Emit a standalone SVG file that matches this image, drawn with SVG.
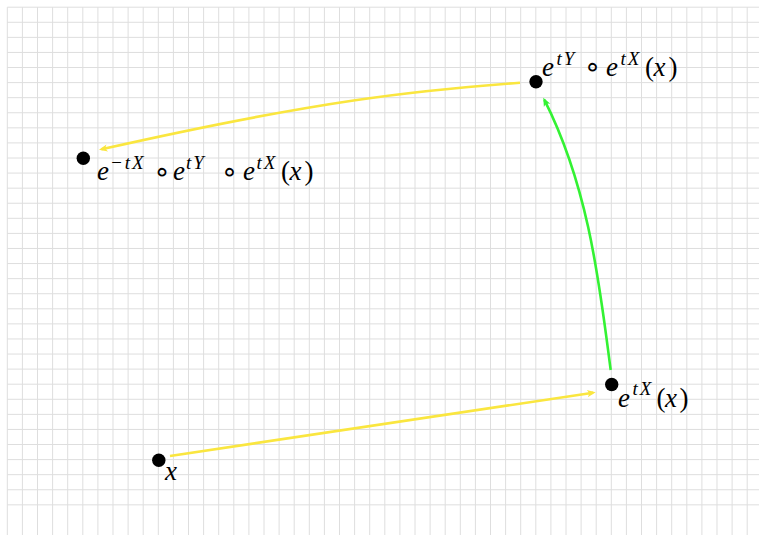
<svg xmlns="http://www.w3.org/2000/svg" width="759" height="535" viewBox="0 0 759 535">
<style>
.grid{fill:none;stroke:#dedede;stroke-width:1}
.dot{fill:#000}
.yel{fill:none;stroke:#fae63f;stroke-width:2.6}
.grn{fill:none;stroke:#33f233;stroke-width:2.6}
text{font-family:'Liberation Serif','DejaVu Serif',serif;font-size:27px;fill:#000}
.it{font-style:italic}
.sup{font-style:italic;font-size:19px;letter-spacing:2px}
.op{font-family:'DejaVu Sans',sans-serif;font-size:28px;font-style:normal;text-anchor:middle}
</style>
<defs>
<marker id="ay" viewBox="-10 -5 11 10" markerWidth="11" markerHeight="10" refX="-2.5" refY="0" orient="auto" markerUnits="userSpaceOnUse">
<path d="M0 0 L-8.5 -3.6 Q-5.5 0 -8.5 3.6 Z" fill="#fae63f"/>
</marker>
<marker id="ag" viewBox="-10 -5 11 10" markerWidth="11" markerHeight="10" refX="-2.5" refY="0" orient="auto" markerUnits="userSpaceOnUse">
<path d="M0 0 L-8.5 -3.6 Q-5.5 0 -8.5 3.6 Z" fill="#33f233"/>
</marker>
</defs>
<rect width="759" height="535" fill="#fff"/>
<path class="grid" d="M7.3 7.2v527.8m15.1-527.8v527.8m15.1-527.8v527.8m15.1-527.8v527.8m15.1-527.8v527.8m15.1-527.8v527.8m15.1-527.8v527.8m15.1-527.8v527.8m15.1-527.8v527.8m15.1-527.8v527.8m15.1-527.8v527.8m15.1-527.8v527.8m15.1-527.8v527.8m15.1-527.8v527.8m15.1-527.8v527.8m15.1-527.8v527.8m15.1-527.8v527.8m15.1-527.8v527.8m15.1-527.8v527.8m15.1-527.8v527.8m15.1-527.8v527.8m15.1-527.8v527.8m15.1-527.8v527.8m15.1-527.8v527.8m15.1-527.8v527.8m15.1-527.8v527.8m15.1-527.8v527.8m15.1-527.8v527.8m15.1-527.8v527.8m15.1-527.8v527.8m15.1-527.8v527.8m15.1-527.8v527.8m15.1-527.8v527.8m15.1-527.8v527.8m15.1-527.8v527.8m15.1-527.8v527.8m15.1-527.8v527.8m15.1-527.8v527.8m15.1-527.8v527.8m15.1-527.8v527.8m15.1-527.8v527.8m15.1-527.8v527.8m15.1-527.8v527.8m15.1-527.8v527.8m15.1-527.8v527.8m15.1-527.8v527.8m15.1-527.8v527.8m15.1-527.8v527.8m15.1-527.8v527.8m15.1-527.8v527.8"/>
<path class="grid" d="M7.3 7.2h751.7m-751.7 15.08h751.7m-751.7 15.08h751.7m-751.7 15.08h751.7m-751.7 15.08h751.7m-751.7 15.08h751.7m-751.7 15.08h751.7m-751.7 15.08h751.7m-751.7 15.08h751.7m-751.7 15.08h751.7m-751.7 15.08h751.7m-751.7 15.08h751.7m-751.7 15.08h751.7m-751.7 15.08h751.7m-751.7 15.08h751.7m-751.7 15.08h751.7m-751.7 15.08h751.7m-751.7 15.08h751.7m-751.7 15.08h751.7m-751.7 15.08h751.7m-751.7 15.08h751.7m-751.7 15.08h751.7m-751.7 15.08h751.7m-751.7 15.08h751.7m-751.7 15.08h751.7m-751.7 15.08h751.7m-751.7 15.08h751.7m-751.7 15.08h751.7m-751.7 15.08h751.7m-751.7 15.08h751.7m-751.7 15.08h751.7m-751.7 15.08h751.7m-751.7 15.08h751.7m-751.7 15.08h751.7"/>
<g id="connectors">
<path class="yel" d="M170 456 L593.2 392.7" marker-end="url(#ay)"/>
<path class="grn" d="M610.7 370 C600 290 590 190 544.4 99.9" marker-end="url(#ag)"/>
<path class="yel" d="M520 82.7 C420 90 320 100 101.4 149.3" marker-end="url(#ay)"/>
</g>
<g id="n-x">
<circle class="dot" cx="158.8" cy="460.3" r="6.7"/>
<text class="it" x="165" y="480">x</text>
</g>
<g id="n-etX">
<circle class="dot" cx="611.7" cy="384.5" r="6.7"/>
<text><tspan class="it" x="618" y="406.7">e</tspan><tspan class="sup" x="632.5" y="395">tX</tspan><tspan x="656.5" y="406.7">(</tspan><tspan class="it" x="665" y="406.7">x</tspan><tspan x="679.5" y="406.7">)</tspan></text>
</g>
<g id="n-etYetX">
<circle class="dot" cx="536" cy="81.7" r="6.7"/>
<text><tspan class="it" x="542" y="76">e</tspan><tspan class="sup" x="556.5" y="64.5">tY</tspan><tspan class="op" x="592.5" y="76">∘</tspan><tspan class="it" x="606" y="76">e</tspan><tspan class="sup" x="620.5" y="64.5">tX</tspan><tspan x="645" y="76">(</tspan><tspan class="it" x="653.5" y="76">x</tspan><tspan x="668.5" y="76">)</tspan></text>
</g>
<g id="n-emtXetYetX">
<circle class="dot" cx="83.3" cy="158.3" r="6.7"/>
<text><tspan class="it" x="97" y="180">e</tspan><tspan class="sup" x="110" y="168.5" letter-spacing="3">−tX</tspan><tspan class="op" x="162" y="180.5">∘</tspan><tspan class="it" x="173" y="180">e</tspan><tspan class="sup" x="186" y="168.5">tY</tspan><tspan class="op" x="229.5" y="180.5">∘</tspan><tspan class="it" x="243" y="180">e</tspan><tspan class="sup" x="256.5" y="168.5">tX</tspan><tspan x="281" y="180">(</tspan><tspan class="it" x="289.5" y="180">x</tspan><tspan x="304.5" y="180">)</tspan></text>
</g>
</svg>
